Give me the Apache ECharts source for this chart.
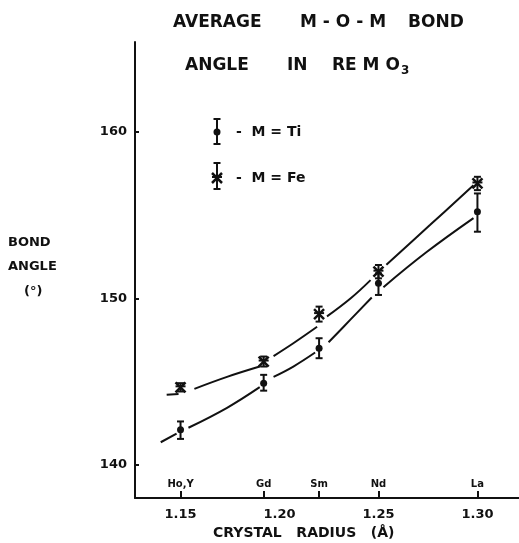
<!DOCTYPE html>
<html>
<head>
<meta charset="utf-8">
<script src="https://cdn.jsdelivr.net/npm/echarts@6/dist/echarts.min.js"></script>
<style>
html,body{margin:0;padding:0;background:#fff;}
#chart{width:519px;height:543px;}
</style>
</head>
<body>
<div id="chart"></div>
<script>
// ---- data ----
var elementNames = ['Ho,Y', 'Gd', 'Sm', 'Nd', 'La'];
var elementRadius = [1.15, 1.192, 1.22, 1.25, 1.30];
var radiusTicks = [1.15, 1.20, 1.25, 1.30];
var angleTicks = [140, 150, 160];

// M = Ti : value, lower, upper
var tiAngle = [142.1, 144.9, 147.0, 150.9, 155.2];
var tiLow   = [141.55, 144.45, 146.4, 150.2, 154.0];
var tiHigh  = [142.6, 145.4, 147.6, 151.5, 156.3];

// M = Fe : value, lower, upper
var feAngle = [144.65, 146.2, 149.05, 151.6, 156.9];
var feLow   = [144.4, 145.9, 148.6, 151.2, 156.5];
var feHigh  = [144.9, 146.5, 149.5, 152.0, 157.3];

// hand-drawn guide curves (segments separated by null gaps)
var tiCurve = [
  [1.140, 141.35], [1.148, 141.87], null,
  [1.154, 142.22], [1.1735, 143.42], [1.190, 144.66], null,
  [1.197, 145.28], [1.207, 145.9], [1.218, 146.74], null,
  [1.2248, 147.36], [1.2357, 148.7], [1.2466, 150.05], null,
  [1.2525, 150.67], [1.274, 152.75], [1.298, 154.82]
];
var feCurve = [
  [1.143, 144.2], [1.149, 144.25], null,
  [1.157, 144.56], [1.1735, 145.28], [1.190, 145.9], null,
  [1.197, 146.53], [1.207, 147.3], [1.219, 148.29], null,
  [1.224, 148.91], [1.236, 150.0], [1.246, 151.09], null,
  [1.254, 152.02], [1.276, 154.4], [1.298, 156.79]
];

function rows(xs, v, lo, hi) {
  return xs.map(function (x, i) { return [x, v[i], lo[i], hi[i]]; });
}
function curveData(c) {
  return c.map(function (p) { return p ? p : [null, null]; });
}

var INK = '#111';
var FONT = '"DejaVu Sans", "Liberation Sans", sans-serif';

function errRender(kind) {
  return function (params, api) {
    var x = api.value(0);
    var p = api.coord([x, api.value(1)]);
    var pl = api.coord([x, api.value(2)]);
    var ph = api.coord([x, api.value(3)]);
    var cap = 3.5;
    var st = { stroke: INK, lineWidth: 2 };
    var ch = [
      { type: 'line', shape: { x1: p[0], y1: pl[1], x2: p[0], y2: ph[1] }, style: st },
      { type: 'line', shape: { x1: p[0] - cap, y1: pl[1], x2: p[0] + cap, y2: pl[1] }, style: st },
      { type: 'line', shape: { x1: p[0] - cap, y1: ph[1], x2: p[0] + cap, y2: ph[1] }, style: st }
    ];
    if (kind === 'ti') {
      ch.push({ type: 'circle', shape: { cx: p[0], cy: p[1], r: 3.5 }, style: { fill: INK } });
    } else {
      var s = 5;
      ch.push({ type: 'line', shape: { x1: p[0] - s, y1: p[1] - s, x2: p[0] + s, y2: p[1] + s }, style: { stroke: INK, lineWidth: 2.5 } });
      ch.push({ type: 'line', shape: { x1: p[0] - s, y1: p[1] + s, x2: p[0] + s, y2: p[1] - s }, style: { stroke: INK, lineWidth: 2.5 } });
      ch.push({ type: 'line', shape: { x1: p[0] - s, y1: p[1] - 1, x2: p[0] + s, y2: p[1] - 1 }, style: { stroke: INK, lineWidth: 2 } });
    }
    return { type: 'group', children: ch };
  };
}

function txt(text, x, y, size, align, extra) {
  var o = {
    type: 'text', left: x, top: y,
    style: { text: text, fill: INK, font: 'bold ' + size + 'px ' + FONT, textAlign: align || 'left', textVerticalAlign: 'middle' }
  };
  o.style.x = 0; o.style.y = 0;
  if (extra) for (var k in extra) o.style[k] = extra[k];
  return { type: 'text', x: x, y: y, style: o.style, z: 10 };
}

var chart = echarts.init(document.getElementById('chart'), null, { renderer: 'canvas' });

var graphics = [
  // title
  txt('AVERAGE', 173, 23, 17),
  txt('M - O - M', 300, 23, 17),
  txt('BOND', 408, 23, 17),
  txt('ANGLE', 185, 66, 17),
  txt('IN', 287, 66, 17),
  {
    type: 'text', x: 332, y: 66, z: 10,
    style: {
      text: '{a|RE M O}{b|3}',
      textVerticalAlign: 'middle',
      rich: {
        a: { font: 'bold 17px ' + FONT, fill: INK },
        b: { font: 'bold 12px ' + FONT, fill: INK, padding: [10, 0, 0, 1] }
      }
    }
  },
  // y axis title
  txt('BOND', 8, 243, 13),
  txt('ANGLE', 8, 267, 13),
  txt('(°)', 24, 292, 13),
  // x axis title
  txt('CRYSTAL   RADIUS   (Å)', 213, 533, 14),
  // legend
  txt('-  M = Ti', 236, 132, 14),
  txt('-  M = Fe', 236, 178, 14),
  { type: 'line', shape: { x1: 217, y1: 119, x2: 217, y2: 144 }, style: { stroke: INK, lineWidth: 2 }, z: 10 },
  { type: 'line', shape: { x1: 213.5, y1: 119, x2: 220.5, y2: 119 }, style: { stroke: INK, lineWidth: 2 }, z: 10 },
  { type: 'line', shape: { x1: 213.5, y1: 144, x2: 220.5, y2: 144 }, style: { stroke: INK, lineWidth: 2 }, z: 10 },
  { type: 'circle', shape: { cx: 217, cy: 132, r: 3.5 }, style: { fill: INK }, z: 10 },
  { type: 'line', shape: { x1: 217, y1: 163, x2: 217, y2: 189 }, style: { stroke: INK, lineWidth: 2 }, z: 10 },
  { type: 'line', shape: { x1: 213.5, y1: 163, x2: 220.5, y2: 163 }, style: { stroke: INK, lineWidth: 2 }, z: 10 },
  { type: 'line', shape: { x1: 213.5, y1: 189, x2: 220.5, y2: 189 }, style: { stroke: INK, lineWidth: 2 }, z: 10 },
  { type: 'line', shape: { x1: 212, y1: 173, x2: 222, y2: 183 }, style: { stroke: INK, lineWidth: 2.5 }, z: 10 },
  { type: 'line', shape: { x1: 212, y1: 183, x2: 222, y2: 173 }, style: { stroke: INK, lineWidth: 2.5 }, z: 10 },
  { type: 'line', shape: { x1: 212, y1: 177, x2: 222, y2: 177 }, style: { stroke: INK, lineWidth: 2 }, z: 10 }
];

var option = {
  backgroundColor: '#fff',
  animation: false,
  graphic: graphics,
  grid: { left: 135, right: 0, top: 42, bottom: 45, containLabel: false },
  xAxis: [
    {
      type: 'value', min: 1.127, max: 1.321, position: 'bottom',
      axisLine: { show: true, onZero: false, lineStyle: { color: INK, width: 2 } },
      axisTick: { show: false },
      splitLine: { show: false },
      axisLabel: {
        customValues: radiusTicks, margin: 10, color: INK,
        fontFamily: FONT, fontWeight: 'bold', fontSize: 13,
        formatter: function (v) { return v.toFixed(2); }
      }
    },
    {
      type: 'value', min: 1.127, max: 1.321, position: 'bottom',
      axisLine: { show: false, onZero: false },
      axisTick: { show: true, inside: true, length: 7, customValues: elementRadius, lineStyle: { color: INK, width: 2 } },
      splitLine: { show: false },
      axisLabel: {
        inside: true, customValues: elementRadius, margin: 9, color: INK,
        fontFamily: FONT, fontWeight: 'bold', fontSize: 10,
        formatter: function (v) {
          var best = 0;
          for (var i = 1; i < elementRadius.length; i++) {
            if (Math.abs(elementRadius[i] - v) < Math.abs(elementRadius[best] - v)) best = i;
          }
          return elementNames[best];
        }
      }
    }
  ],
  yAxis: {
    type: 'value', min: 138, max: 165.4,
    axisLine: { show: true, onZero: false, lineStyle: { color: INK, width: 2 } },
    axisTick: { show: true, inside: true, length: 4, customValues: angleTicks, lineStyle: { color: INK, width: 2 } },
    splitLine: { show: false },
    axisLabel: {
      customValues: angleTicks, margin: 8, color: INK,
      fontFamily: FONT, fontWeight: 'bold', fontSize: 13
    }
  },
  series: [
    {
      type: 'line', data: curveData(tiCurve), smooth: 0.4, connectNulls: false,
      symbol: 'none', lineStyle: { color: INK, width: 2 }
    },
    {
      type: 'line', data: curveData(feCurve), smooth: 0.4, connectNulls: false,
      symbol: 'none', lineStyle: { color: INK, width: 2 }
    },
    {
      type: 'custom', renderItem: errRender('ti'), data: rows(elementRadius, tiAngle, tiLow, tiHigh),
      encode: { x: 0, y: [1, 2, 3] }, z: 5
    },
    {
      type: 'custom', renderItem: errRender('fe'), data: rows(elementRadius, feAngle, feLow, feHigh),
      encode: { x: 0, y: [1, 2, 3] }, z: 5
    }
  ]
};
chart.setOption(option);
</script>
</body>
</html>
